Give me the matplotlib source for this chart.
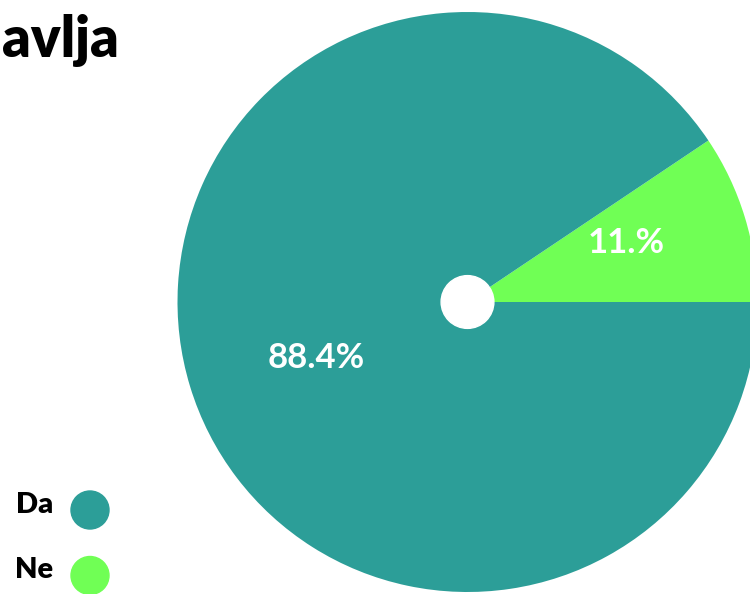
import numpy as np
import matplotlib
matplotlib.use("Agg")
import matplotlib.pyplot as plt
from matplotlib.patches import Circle

# data
categories = ["Ne", "Da"]
shares = [9.4, 90.6]
pct_labels = ["11.%", "88.4%"]
colors = ["#70ff55", "#2c9e98"]

plt.rcParams['font.family'] = ['Lato', 'DejaVu Sans']

W, H = 750, 594
fig = plt.figure(figsize=(W / 100, H / 100), dpi=100)
ax = fig.add_axes([0, 0, 1, 1])

# pie centre/radius in pixels
cx, cy, r = 467.5, H - 302, 290.0

it = iter(pct_labels)
wedges, texts, autotexts = ax.pie(
    shares, colors=colors, startangle=0, counterclock=True,
    autopct=lambda p: next(it), pctdistance=0.57,
    textprops=dict(color="white", fontsize=25, fontweight="bold"),
    wedgeprops=dict(linewidth=0))
ax.add_patch(Circle((0, 0), 0.091, color="white", zorder=5))

# labels sit a little further round than the wedge middle
for t, d in zip(autotexts, [0.585, 0.555]):
    x, y = t.get_position()
    a = np.arctan2(y, x) + np.radians(3.5)
    t.set_position((d * np.cos(a), d * np.sin(a)))

ax.set_xlim(-cx / r, (W - cx) / r)
ax.set_ylim(-cy / r, (H - cy) / r)
ax.set_aspect("auto")
ax.axis("off")

# cropped title
fig.text(2 / W, 1 - 57 / H, "avlja", ha="left", va="baseline",
         fontsize=40, fontweight="heavy", color="black")

# legend
leg_y = [575.5, 510]
for name, col, y in zip(categories, colors, leg_y):
    fig.patches.append(Circle((90, H - y), 19, transform=None,
                              color=col, figure=fig))
    fig.text(53 / W, 1 - (y - 5) / H, name, ha="right", va="center",
             fontsize=21, fontweight="heavy", color="black")

fig.savefig("out.png", dpi=100)
